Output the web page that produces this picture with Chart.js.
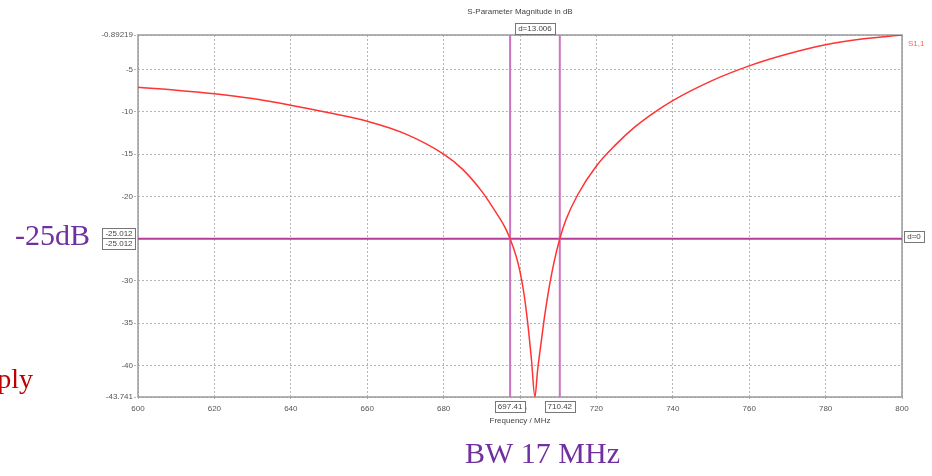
<!DOCTYPE html>
<html lang="en">
<head>
<meta charset="UTF-8" />
<title>S-Parameter Magnitude in dB</title>
<script src="https://cdn.jsdelivr.net/npm/chart.js@4.4.0/dist/chart.umd.min.js"></script>
<style>
    html, body { margin: 0; padding: 0; background: #fff; }
    #wrap { position: relative; width: 932px; height: 476px; }
</style>
</head>
<body>
<div id="wrap"><canvas id="chart"></canvas></div>
<script>
// S1,1 (MHz / dB)
var freqMHz = [600, 610, 620, 630, 640, 650, 660, 670, 680, 685, 690, 692, 694, 696, 697.41,
    699, 700, 701, 702, 703, 703.9, 704.6, 705.5, 706.5, 707.7, 709, 710.42,
    712, 715.1, 720, 725, 730, 735, 740, 750, 760, 770, 780, 790, 800];
var s11dB = [-7.09, -7.42, -7.85, -8.42, -9.2, -10.1, -11.1, -12.6, -15.0, -16.8, -19.4, -20.7, -22.1, -23.6, -25.01,
    -27.1, -28.9, -31.4, -34.9, -39.3, -43.741, -40.6, -37.4, -34.0, -30.6, -27.6, -25.01,
    -22.8, -19.8, -16.4, -13.9, -11.8, -10.1, -8.65, -6.35, -4.55, -3.15, -2.05, -1.35, -0.89219];

var xTicks = [600, 620, 640, 660, 680, 700, 720, 740, 760, 780, 800];
var yTicks = [-0.89219, -5, -10, -15, -20, -25, -30, -35, -40, -43.741];

// markers
var markerFreqs = [697.41, 710.42];
var markerLevel = -25.012;
var markerDelta = "d=13.006";

var yMin = yTicks[yTicks.length - 1], yMax = yTicks[0];
var xMin = xTicks[0], xMax = xTicks[xTicks.length - 1];

var curve = freqMHz.map(function (f, i) { return { x: f, y: s11dB[i] }; });

var datasets = [{
    label: "S1,1",
    data: curve,
    borderColor: "#ff3333",
    borderWidth: 1.5,
    pointRadius: 0,
    cubicInterpolationMode: "monotone"
}];
markerFreqs.forEach(function (f) {
    datasets.push({
        data: [{ x: f, y: yMax }, { x: f, y: yMin }],
        borderColor: "#cc74c2",
        borderWidth: 2,
        pointRadius: 0
    });
});
datasets.push({
    data: [{ x: xMin, y: markerLevel }, { x: xMax, y: markerLevel }],
    borderColor: "#b53c96",
    borderWidth: 2,
    pointRadius: 0
});

var small = '8px "Liberation Sans", Arial, sans-serif';

function box(ctx, text, cx, cy) {
    ctx.font = small;
    var w = ctx.measureText(text).width + 6, h = 11;
    ctx.fillStyle = "#fff";
    ctx.fillRect(cx - w / 2, cy - h / 2, w, h);
    ctx.strokeStyle = "#777";
    ctx.lineWidth = 1;
    ctx.strokeRect(Math.round(cx - w / 2) + 0.5, Math.round(cy - h / 2) + 0.5, Math.round(w), h);
    ctx.fillStyle = "#444";
    ctx.textAlign = "center";
    ctx.textBaseline = "middle";
    ctx.fillText(text, cx, cy + 0.5);
}

var annotations = {
    id: "annotations",
    beforeDatasetsDraw: function (chart) {
        var ctx = chart.ctx, a = chart.chartArea;
        ctx.save();
        ctx.strokeStyle = "#9a9a9a";
        ctx.lineWidth = 1.5;
        ctx.strokeRect(a.left, a.top, a.right - a.left, a.bottom - a.top);
        ctx.restore();
    },
    afterDraw: function (chart) {
        var ctx = chart.ctx, a = chart.chartArea;
        var x = chart.scales.x, y = chart.scales.y;
        ctx.save();

        ctx.font = small;
        ctx.fillStyle = "#444";
        ctx.textAlign = "center";
        ctx.textBaseline = "middle";
        ctx.fillText("S-Parameter Magnitude in dB", (a.left + a.right) / 2, 12);
        ctx.fillText("Frequency / MHz", (a.left + a.right) / 2, 421);

        var px = markerFreqs.map(function (f) { return x.getPixelForValue(f); });
        box(ctx, markerDelta, (px[0] + px[1]) / 2, 28);
        markerFreqs.forEach(function (f, i) {
            box(ctx, f.toFixed(2), px[i], a.bottom + 9);
        });

        var py = y.getPixelForValue(markerLevel);
        box(ctx, markerLevel.toFixed(3), a.left - 19, py - 5);
        box(ctx, markerLevel.toFixed(3), a.left - 19, py + 5);
        box(ctx, "d=0", a.right + 12, py - 2);

        ctx.font = small;
        ctx.fillStyle = "#ff6060";
        ctx.textAlign = "left";
        ctx.fillText("S1,1", a.right + 6, a.top + 9);

        // slide text around the plot
        ctx.font = '30px "Liberation Serif", "DejaVu Serif", serif';
        ctx.textBaseline = "alphabetic";
        ctx.fillStyle = "#7030a0";
        ctx.textAlign = "left";
        ctx.fillText("-25dB", 15, 245);
        ctx.fillText("BW 17 MHz", 465, 463);
        ctx.fillStyle = "#c00000";
        ctx.textAlign = "right";
        ctx.font = '28px "Liberation Serif", "DejaVu Serif", serif';
        ctx.fillText("ply", 33, 388);
        ctx.restore();
    }
};

new Chart("chart", {
    type: "line",
    data: { datasets: datasets },
    plugins: [annotations],
    options: {
        responsive: true,
        maintainAspectRatio: false,
        animation: false,
        layout: { padding: { left: 98, right: 30, top: 35, bottom: 59 } },
        plugins: {
            legend: { display: false },
            tooltip: { enabled: false }
        },
        scales: {
            x: {
                type: "linear",
                min: xMin,
                max: xMax,
                afterBuildTicks: function (scale) {
                    scale.ticks = xTicks.map(function (v) { return { value: v }; });
                },
                afterFit: function (scale) { scale.height = 20; },
                grid: { color: "#b4b4b4", lineWidth: 1, tickLength: 4, tickBorderDash: [2, 2] },
                border: { display: false, dash: [2, 2] },
                ticks: {
                    font: { family: "Liberation Sans", size: 8 },
                    color: "#555",
                    padding: 3,
                    maxRotation: 0,
                    autoSkip: false
                }
            },
            y: {
                type: "linear",
                min: yMin,
                max: yMax,
                afterBuildTicks: function (scale) {
                    scale.ticks = yTicks.map(function (v) { return { value: v }; });
                },
                afterFit: function (scale) { scale.width = 40; },
                grid: { color: "#b4b4b4", lineWidth: 1, tickLength: 4, tickBorderDash: [2, 2] },
                border: { display: false, dash: [2, 2] },
                ticks: {
                    font: { family: "Liberation Sans", size: 8 },
                    color: "#555",
                    padding: 1,
                    autoSkip: false,
                    callback: function (v) { return String(v); }
                }
            }
        }
    }
});
</script>
</body>
</html>
